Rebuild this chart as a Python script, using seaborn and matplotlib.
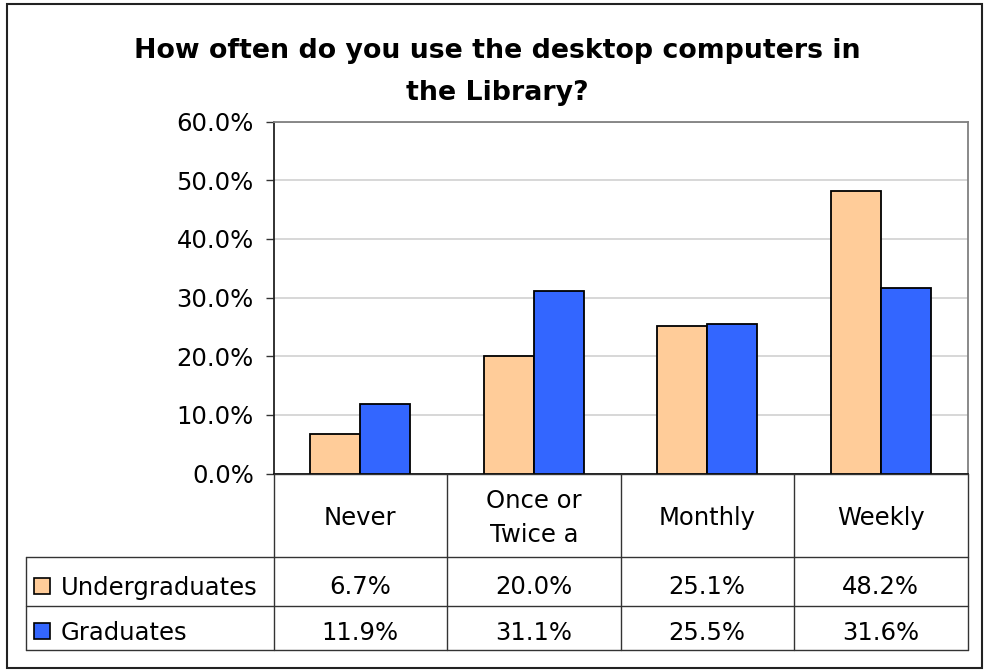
import matplotlib
matplotlib.use("Agg")
import matplotlib.pyplot as plt
from matplotlib.patches import Rectangle
import seaborn as sns
import pandas as pd

# Survey answers, share of respondents per group
categories = ["Never", "Once or\nTwice a", "Monthly", "Weekly"]
groups = ["Undergraduates", "Graduates"]
undergrad = [6.7, 20.0, 25.1, 48.2]
graduate = [11.9, 31.1, 25.5, 31.6]
yticks = [0, 10, 20, 30, 40, 50, 60]
colors = {"Undergraduates": "#FFCC99", "Graduates": "#3366FF"}
title = "How often do you use the desktop computers in\nthe Library?"

df = pd.DataFrame({
    "category": categories * 2,
    "group": [groups[0]] * len(categories) + [groups[1]] * len(categories),
    "value": undergrad + graduate,
})

sns.set_theme(style="white")
plt.rcParams["font.family"] = ["DejaVu Sans"]
plt.rcParams["text.color"] = "black"
plt.rcParams["ytick.color"] = "black"
plt.rcParams["ytick.labelcolor"] = "black"

FS = 17.5
W, H = 984, 670
fig = plt.figure(figsize=(W / 100, H / 100), dpi=100)
fig.patch.set_facecolor("white")

# plot area in pixel coordinates
L, R, T, B = 273.5, 967.5, 121.7, 473.5
ax = fig.add_axes([L / W, 1 - B / H, (R - L) / W, (B - T) / H])

sns.barplot(data=df, x="category", y="value", hue="group", order=categories,
            hue_order=groups, palette=colors, width=0.576, dodge=True,
            edgecolor="black", linewidth=1.3, saturation=1, legend=False, ax=ax,
            zorder=3)

ax.set_xlim(-0.5, len(categories) - 0.5)
ax.set_ylim(0, 60)
ax.set_yticks(yticks)
ax.set_yticklabels([f"{v:.1f}%" for v in yticks], fontsize=FS)
ax.set_xticks([])
ax.set_xlabel("")
ax.set_ylabel("")
ax.yaxis.grid(True, color="#D4D4D4", linewidth=1.3, zorder=0)
ax.set_axisbelow(True)
ax.tick_params(axis="y", which="major", left=True, length=5.8, width=1.0,
               color="#333333", pad=8.4, direction="out")
for side, col in [("top", "#808080"), ("right", "#808080"),
                  ("left", "#222222"), ("bottom", "#111111")]:
    ax.spines[side].set_visible(True)
    ax.spines[side].set_color(col)
    ax.spines[side].set_linewidth(1.3)

# overlay for the data table, title and frame (pixel coordinates)
ov = fig.add_axes([0, 0, 1, 1], zorder=5)
ov.set_xlim(0, W)
ov.set_ylim(H, 0)
ov.axis("off")
ov.patch.set_alpha(0)


def lines_at(x, baselines, text, **kw):
    for yb, part in zip(baselines, text.split("\n")):
        ov.text(x, yb, part, ha="center", va="baseline", **kw)


lines_at(497.5, [58.3, 99.8], title, fontsize=19.3, fontweight="bold")

ov.add_patch(Rectangle((6.5, 4), 975, 663.5, fill=False, edgecolor="#222222",
                       linewidth=1.5))

lc = "#333333"
lw = 1.0
col_edges = [L + i * (R - L) / len(categories) for i in range(len(categories) + 1)]
row_y = [B, 557.3, 605.5, 649.5]
left_x = 25.7

# horizontal rules
ov.plot([L, R], [row_y[0], row_y[0]], color=lc, lw=lw)
for y in row_y[1:]:
    ov.plot([left_x, R], [y, y], color=lc, lw=lw)
# vertical rules
for x in col_edges:
    ov.plot([x, x], [row_y[0], row_y[-1]], color=lc, lw=lw)
ov.plot([left_x, left_x], [row_y[1], row_y[-1]], color=lc, lw=lw)

# header row
for i, cat in enumerate(categories):
    cx = (col_edges[i] + col_edges[i + 1]) / 2
    n = cat.count("\n") + 1
    bases = [525 + (k - (n - 1) / 2) * 35 for k in range(n)]
    lines_at(cx, bases, cat, fontsize=FS)

# value rows with legend keys
row_base = [594.5, 639.5]
for r, (name, vals) in enumerate(zip(groups, [undergrad, graduate])):
    yb = row_base[r]
    ov.add_patch(Rectangle((33.5, yb - 17), 16, 16, facecolor=colors[name],
                           edgecolor="black", linewidth=1.2))
    ov.text(61, yb, name, ha="left", va="baseline", fontsize=FS)
    for i, v in enumerate(vals):
        cx = (col_edges[i] + col_edges[i + 1]) / 2
        ov.text(cx, yb, f"{v:.1f}%", ha="center", va="baseline", fontsize=FS)

fig.savefig("out.png", dpi=100, facecolor="white")
